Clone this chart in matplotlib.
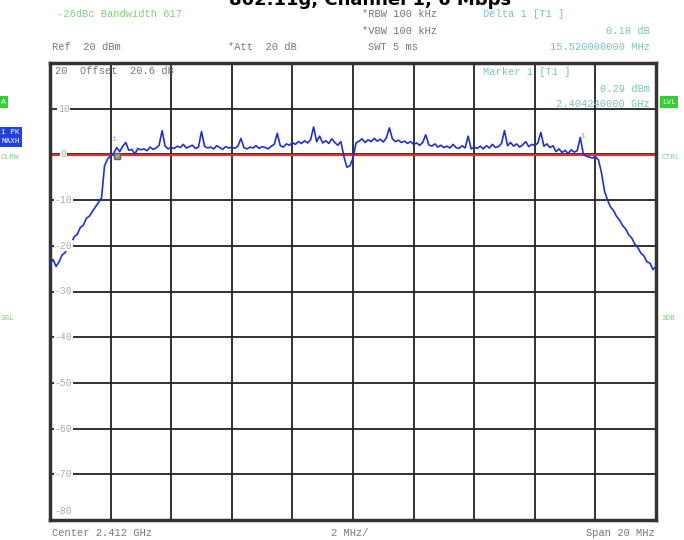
# Spectrum analyzer screen: 802.11g, channel 1, 6 Mbps
import numpy as np
import matplotlib.pyplot as plt

# sweep: center 2.412 GHz, span 20 MHz, 0.1 MHz steps (offset from center, MHz)
freq_offset = np.round(np.arange(-10.0, 10.01, 0.1), 1)

# trace level (dBm)
left_skirt = [-24.0, -23.0, -24.5, -23.5, -22.0, -21.5, -20.0, -19.5, -18.0, -17.5,
              -16.0, -15.5, -14.0, -13.5, -12.5, -11.5, -10.5, -9.5, -2.5, -1.0, -0.3]
passband = [0.2, 1.5, 0.6, 1.8, 2.6, 0.9, 1.1, 0.1, 1.3, 1.0,
            1.2, 0.8, 1.6, 1.1, 1.4, 2.0, 5.2, 1.8, 1.2, 1.5,
            1.3, 1.8, 1.5, 2.2, 1.4, 1.7, 2.0, 1.3, 1.6, 5.0,
            1.8, 1.4, 1.6, 1.2, 1.9, 1.5, 1.1, 1.7, 1.4, 1.6,
            1.3, 1.8, 3.5, 1.5, 1.2, 1.6, 1.4, 1.9, 1.3, 1.7,
            1.5, 1.2, 1.8, 2.2, 4.6, 1.9, 1.6, 2.3, 2.0, 2.6,
            2.2, 2.8, 2.4, 3.0, 2.5, 3.2, 6.0, 2.8, 4.0, 2.5,
            3.0, 2.4, 3.4, 2.6, 2.0, 2.8, -0.5, -2.8, -2.5, -0.8,
            2.5, 2.9, 3.4, 2.6, 3.2, 2.8, 3.5, 2.9, 3.3, 2.7,
            3.6, 5.8, 3.4, 2.8, 3.1, 2.6, 2.9, 2.4, 2.8, 2.2,
            2.5, 2.0, 2.6, 4.3, 2.1, 1.8, 2.3, 1.6, 2.0, 1.5,
            1.8, 1.4, 2.2, 1.5, 1.3, 1.9, 1.4, 4.0, 1.2, 1.6,
            1.3, 1.8, 1.2, 1.9, 1.4, 2.2, 1.5, 1.7, 2.4, 5.2,
            1.9, 2.6, 1.8, 2.3, 1.6, 2.1, 2.8, 1.7, 2.2, 1.9,
            2.5, 4.8, 1.8, 2.3, 1.5, 1.9, 0.6, 1.2, 0.4, 0.9,
            0.2, 1.0, 0.5, 0.8, 3.7, 0.1, -0.4, -0.6]
right_skirt = [-0.8, -0.5, -1.2, -4.0, -8.0, -10.0, -11.5, -12.3, -13.6, -14.4,
               -15.6, -16.3, -17.6, -18.3, -19.6, -20.4, -21.6, -22.2, -23.5, -23.8,
               -25.2, -24.5]
level = np.array(left_skirt + passband + right_skirt)

display_line = -0.2
y_ticks = [10, 0, -10, -20, -30, -40, -50, -60, -70, -80]

mono = 'Liberation Mono'
gray = '#8a8a8a'
green = '#7fcf7f'
teal = '#7fbfbf'

fig = plt.figure(figsize=(6.84, 5.4), dpi=100)
ax = fig.add_axes([50/684, 20/540, 606/684, 457/540])

ax.plot(freq_offset, level, color='#2030d0', lw=1.2, zorder=3)
ax.axhline(display_line, color='#e03030', lw=1.6, zorder=2)

ax.set_xlim(-10, 10)
ax.set_ylim(-80, 20)
ax.set_xticks(np.arange(-10, 11, 2))
ax.set_yticks(np.arange(-80, 21, 10))
ax.grid(True, color='#222222', lw=1.3)
ax.tick_params(length=0, labelbottom=False, labelleft=False)
for s in ax.spines.values():
    s.set_linewidth(2.5)
    s.set_color('#333333')

# level labels drawn inside the grid
for v in y_ticks:
    yv = v if v > -80 else -78
    ax.text(-9.55, yv, str(v), fontsize=7, family=mono, color='#aaaaaa',
            ha='center', va='center', zorder=4,
            bbox=dict(fc='white', ec='none', pad=0.5))

# markers
ax.plot([-7.8], [-0.3], marker='s', ms=4, mfc='#a0a080', mec='#606060', zorder=5)
ax.text(-7.9, 3.0, '1', fontsize=6, family=mono, color='#9ab', ha='center')
ax.text(7.6, 3.5, '1', fontsize=6, family=mono, color='#9ab', ha='center')

ax.text(-9.85, 18.2, '20  Offset  20.6 dB', fontsize=7.5, family=mono, color='#777777', va='center')
ax.text(4.3, 18.0, 'Marker 1 [T1 ]', fontsize=7.5, family=mono, color=teal, va='center')
ax.text(9.8, 14.4, '0.29 dBm', fontsize=7.5, family=mono, color=teal, va='center', ha='right')
ax.text(9.8, 11.0, '2.404240000 GHz', fontsize=7.5, family=mono, color=teal, va='center', ha='right')

# header
fig.text(370/684, 1.0, '802.11g, Channel 1, 6 Mbps', fontsize=13, fontweight='bold',
         ha='center', va='center')
fig.text(57/684, 1 - 14/540, '-26dBc Bandwidth 617', fontsize=7.5, family=mono, color=green, va='center')
fig.text(362/684, 1 - 14/540, '*RBW 100 kHz', fontsize=7.5, family=mono, color='#777777', va='center')
fig.text(483/684, 1 - 14/540, 'Delta 1 [T1 ]', fontsize=7.5, family=mono, color=teal, va='center')
fig.text(362/684, 1 - 31/540, '*VBW 100 kHz', fontsize=7.5, family=mono, color='#777777', va='center')
fig.text(650/684, 1 - 31/540, '0.18 dB', fontsize=7.5, family=mono, color=teal, va='center', ha='right')
fig.text(52/684, 1 - 47/540, 'Ref  20 dBm', fontsize=7.5, family=mono, color='#777777', va='center')
fig.text(228/684, 1 - 47/540, '*Att  20 dB', fontsize=7.5, family=mono, color='#777777', va='center')
fig.text(368/684, 1 - 47/540, 'SWT 5 ms', fontsize=7.5, family=mono, color='#777777', va='center')
fig.text(650/684, 1 - 47/540, '15.520000000 MHz', fontsize=7.5, family=mono, color=teal, va='center', ha='right')

# footer
fig.text(52/684, 1 - 533/540, 'Center 2.412 GHz', fontsize=7.5, family=mono, color='#777777', va='center')
fig.text(350/684, 1 - 533/540, '2 MHz/', fontsize=7.5, family=mono, color='#777777', va='center', ha='center')
fig.text(655/684, 1 - 533/540, 'Span 20 MHz', fontsize=7.5, family=mono, color='#777777', va='center', ha='right')

# side annotations
fig.text(1/684, 1 - 102/540, 'A', fontsize=6, family=mono, color='white', va='center',
         bbox=dict(fc='#30d030', ec='none', pad=1.5))
fig.text(1/684, 1 - 137/540, '1 PK\nMAXH', fontsize=5.5, family=mono, color='white', va='center',
         linespacing=1.3, bbox=dict(fc='#2040e0', ec='none', pad=1.5))
fig.text(1/684, 1 - 158/540, 'CLRW', fontsize=5.5, family=mono, color=green, va='center')
fig.text(1/684, 1 - 318/540, 'SGL', fontsize=5.5, family=mono, color=green, va='center')
fig.text(662/684, 1 - 102/540, 'LVL', fontsize=5.5, family=mono, color='white', va='center',
         bbox=dict(fc='#30d030', ec='none', pad=1.5))
fig.text(662/684, 1 - 158/540, 'CTRL', fontsize=5.5, family=mono, color=green, va='center')
fig.text(662/684, 1 - 318/540, '3DB', fontsize=5.5, family=mono, color=green, va='center')

fig.savefig('out.png', dpi=100)
